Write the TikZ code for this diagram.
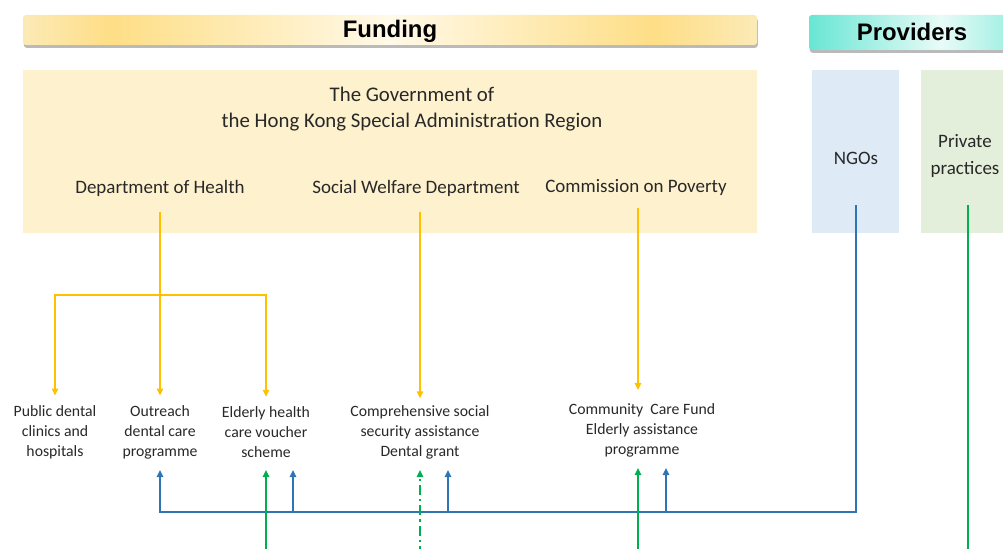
\documentclass[tikz,border=0pt]{standalone}
\usepackage{fontspec}
\setmainfont{Carlito}
\newfontfamily\headfont{Liberation Sans}
\usetikzlibrary{arrows.meta,shadows}

\definecolor{govfill}{RGB}{254,241,206}
\definecolor{ngofill}{RGB}{222,234,246}
\definecolor{privfill}{RGB}{227,239,218}
\definecolor{fundA}{RGB}{252,234,182}
\definecolor{fundB}{RGB}{254,222,134}
\definecolor{fundC}{RGB}{255,249,232}
\definecolor{provA}{RGB}{104,230,212}
\definecolor{provB}{RGB}{232,251,247}
\definecolor{fundline}{RGB}{255,192,0}
\definecolor{ngoline}{RGB}{46,117,182}
\definecolor{privline}{RGB}{0,176,80}
\definecolor{txt}{RGB}{40,40,40}

\pgfdeclarehorizontalshading{fundbar}{100bp}{color(0bp)=(fundA); color(25bp)=(fundA);
  color(31bp)=(fundB); color(50bp)=(fundC); color(68bp)=(fundB); color(75bp)=(fundA); color(100bp)=(fundA)}
\pgfdeclarehorizontalshading{provbar}{100bp}{color(0bp)=(provA); color(25bp)=(provA);
  color(57bp)=(provB); color(75bp)=(provA!60!provB); color(100bp)=(provA!60!provB)}

\tikzset{
  headbar/.style={rounded corners=2pt, drop shadow={shadow xshift=0.02cm, shadow yshift=-0.07cm, opacity=0.45, fill=black!60}},
  headtext/.style={font=\headfont\bfseries\fontsize{17}{20}\selectfont},
  govtext/.style={text=txt, font=\fontsize{13.5}{19}\selectfont, align=center},
  scheme/.style={text=txt, font=\fontsize{11.2}{14.2}\selectfont, align=center, inner sep=1pt},
  fundarrow/.style={draw=fundline, line width=1.1pt, -{Triangle[length=5pt,width=4.5pt]}},
  ngoarrow/.style={draw=ngoline, line width=1.3pt, -{Triangle[length=5pt,width=4.5pt]}},
  privarrow/.style={draw=privline, line width=1.3pt, -{Triangle[length=5pt,width=4.5pt]}},
}

\begin{document}
\begin{tikzpicture}

\useasboundingbox (0,0) rectangle (25.075,13.7);

%title bars
\path[headbar, shading=fundbar] (0.575,12.575) rectangle (18.925,13.325);
\path[headbar, shading=provbar] (20.225,12.45) rectangle (25.375,13.325);
\node[headtext] (funding)   at (9.75,12.92)  {Funding};
\node[headtext] (providers) at (22.8,12.9)   {Providers};

%boxes
\fill[govfill]  (0.575,7.875) rectangle (18.925,11.95);
\fill[ngofill]  (20.3,7.875)  rectangle (22.475,11.95);
\fill[privfill] (23.025,7.875) rectangle (25.2,11.95);

%funding bodies
\node[govtext, font=\fontsize{14.8}{19}\selectfont] (gov) at (10.3,10.97)
  {The Government of\\the Hong Kong Special Administration Region};
\node[govtext] (doh)  at (4.0,9.0)    {Department of Health};
\node[govtext] (swd)  at (10.4,9.0)   {Social Welfare Department};
\node[govtext] (cop)  at (15.9,9.0)   {Commission on Poverty};
%
\node[govtext] (ngo)  at (21.4,9.75)  {NGOs};
\node[govtext] (priv) at (24.125,9.8) {Private\\practices};

%schemes
\node[scheme] (pdc) at (1.375,2.9) {Public dental\\clinics and\\hospitals};
\node[scheme] (odc) at (4.0,2.9)   {Outreach\\dental care\\programme};
\node[scheme] (ehv) at (6.65,2.9)  {Elderly health\\care voucher\\scheme};
\node[scheme] (css) at (10.5,2.88) {Comprehensive social\\security assistance\\Dental grant};
\node[scheme] (ccf) at (16.05,2.95) {Community~ Care Fund\\Elderly assistance\\programme};

%funding flows
\coordinate (fork) at (4.0,6.325);
\draw[fundarrow] (4.0,8.4) -- ([yshift=0.2cm]odc.north);
\draw[fundarrow] (fork) -| ([yshift=0.2cm]pdc.north);
\draw[fundarrow] (fork) -| ([yshift=0.2cm]ehv.north);
\draw[fundarrow] (10.5,8.4) -- ([yshift=0.15cm]css.north);
\draw[fundarrow] (15.95,8.5) -- (15.95,3.95);

%NGO services
\coordinate (ngotop) at (21.4,8.575);
\coordinate (ngobus) at (21.4,0.9);
\draw[ngoarrow] (ngotop) -- (ngobus) -- (4.0,0.9) -- (4.0,1.95);
\draw[ngoarrow] (7.325,0.9) -- (7.325,1.95);
\draw[ngoarrow] (11.2,0.9)  -- (11.2,1.95);
\draw[ngoarrow] (16.65,0.9) -- (16.65,2.0);

%private practice services
\coordinate (privtop) at (24.2,8.575);
\draw[draw=privline, line width=1.3pt] (privtop) -- (24.2,-0.2);
\draw[privarrow] (6.65,-0.2) -- (6.65,1.95);
\draw[privarrow, dash pattern=on 7pt off 3pt on 1.5pt off 3pt] (10.5,-0.2) -- (10.5,1.95);
\draw[privarrow] (15.95,-0.2) -- (15.95,2.0);

\end{tikzpicture}
\end{document}
